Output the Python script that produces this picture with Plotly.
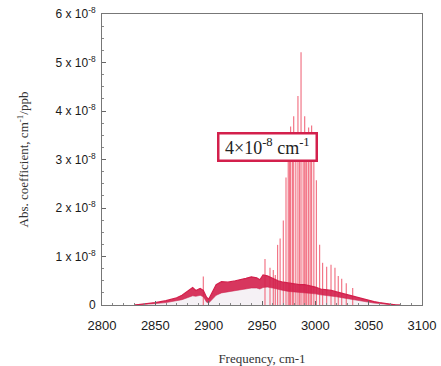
import plotly.graph_objects as go

# Broadband envelope (units of 1e-8 cm-1/ppb)
env_freq = [2830, 2840, 2850, 2860, 2870, 2875, 2880, 2885, 2888, 2892, 2895, 2898, 2900, 2903,
            2907, 2912, 2918, 2925, 2930, 2935, 2940, 2945, 2948, 2951, 2955, 2960, 2965, 2970,
            2975, 2980, 2985, 2990, 2995, 3000, 3005, 3010, 3015, 3020, 3025, 3030, 3035, 3040,
            3045, 3050, 3055, 3060, 3065, 3070, 3075, 3080]
env_upper = [0.0, 0.02, 0.05, 0.09, 0.15, 0.20, 0.28, 0.36, 0.30, 0.34, 0.30, 0.16, 0.12, 0.25,
             0.42, 0.48, 0.47, 0.50, 0.52, 0.55, 0.58, 0.56, 0.52, 0.62, 0.60, 0.55, 0.50, 0.47,
             0.45, 0.43, 0.42, 0.42, 0.40, 0.37, 0.33, 0.32, 0.30, 0.27, 0.24, 0.21, 0.18, 0.15,
             0.12, 0.09, 0.07, 0.05, 0.03, 0.015, 0.005, 0.0]
env_lower = [0.0, 0.01, 0.03, 0.05, 0.08, 0.11, 0.15, 0.19, 0.18, 0.20, 0.17, 0.06, 0.04, 0.10,
             0.20, 0.25, 0.27, 0.30, 0.32, 0.34, 0.35, 0.35, 0.33, 0.36, 0.37, 0.35, 0.32, 0.30,
             0.28, 0.27, 0.26, 0.26, 0.25, 0.23, 0.21, 0.20, 0.19, 0.17, 0.15, 0.13, 0.11, 0.09,
             0.07, 0.05, 0.04, 0.03, 0.015, 0.007, 0.002, 0.0]

# Sharp rovibrational lines (units of 1e-8 cm-1/ppb)
line_freq = [2895, 2952.8, 2957.5, 2960.6, 2962.5, 2964.6, 2967, 2970, 2972.5, 2974.6, 2975.8,
             2976.8, 2978.5, 2979.7, 2981.7, 2983.7, 2985.2, 2986.6, 2988.6, 2990, 2991.2, 2992,
             2993.7, 2995.2, 2996.5, 2998.6, 3001, 3004, 3006.8, 3010.6, 3014.7, 3018.4, 3021.5,
             3024.7, 3029, 3035]
line_height = [0.59, 0.95, 0.77, 0.72, 0.62, 1.24, 1.37, 1.74, 2.63, 3.2, 3.0,
               3.68, 3.3, 3.89, 3.5, 4.31, 3.2, 5.21, 3.4, 3.89, 3.1, 3.3,
               3.66, 3.2, 3.7, 3.2, 2.57, 1.24, 0.87, 0.79, 0.83, 0.77, 0.6,
               0.54, 0.45, 0.35]

x_ticks = [2800, 2850, 2900, 2950, 3000, 3050, 3100]
y_ticks = [0, 1, 2, 3, 4, 5, 6]
y_ticktext = ["0"] + [f"{v} x 10<sup>-8</sup>" for v in y_ticks[1:]]

CRIMSON = "#d3204c"

fig = go.Figure()

# light interior under the band
fig.add_trace(go.Scatter(x=env_freq, y=env_lower, mode="lines",
                         line=dict(color="rgba(190,190,200,0.6)", width=0.6),
                         fill="tozeroy", fillcolor="rgba(235,228,235,0.5)",
                         hoverinfo="skip", showlegend=False))

# sharp lines
lx, ly = [], []
for f, h in zip(line_freq, line_height):
    lx += [f, f, None]
    ly += [0, h, None]
fig.add_trace(go.Scatter(x=lx, y=ly, mode="lines",
                         line=dict(color="rgba(240,95,115,0.85)", width=1.2),
                         hoverinfo="skip", showlegend=False))

# crimson band
fig.add_trace(go.Scatter(x=env_freq, y=env_lower, mode="lines",
                         line=dict(color=CRIMSON, width=0.5), hoverinfo="skip", showlegend=False))
fig.add_trace(go.Scatter(x=env_freq, y=env_upper, mode="lines",
                         line=dict(color=CRIMSON, width=1.2), fill="tonexty",
                         fillcolor="rgba(211,32,76,0.9)", hoverinfo="skip", showlegend=False))

fig.add_annotation(x=2955.6, y=3.25, xref="x", yref="y",
                   text="&nbsp;4×10<sup>-8</sup> cm<sup>-1</sup>&nbsp;", showarrow=False,
                   font=dict(family="Liberation Serif", size=18, color="#222"),
                   bgcolor="white", bordercolor=CRIMSON, borderwidth=2.5, borderpad=1)

fig.update_layout(
    width=441, height=366,
    margin=dict(l=102, r=19, t=14, b=61, autoexpand=False),
    paper_bgcolor="white", plot_bgcolor="white",
    font=dict(family="Liberation Sans", color="#222"),
)
fig.update_xaxes(range=[2800, 3100], tickvals=x_ticks, ticks="inside", ticklen=4,
                 tickcolor="#666", showline=True, linecolor="#777", mirror=True, showgrid=False,
                 zeroline=False, automargin=False, ticklabelstandoff=8, ticklabeloverflow="allow",
                 tickfont=dict(size=13, family="Liberation Sans", color="#1a1a1a"),
                 minor=dict(dtick=10, ticks="inside", ticklen=2, tickcolor="#888"),
                 title=dict(text="Frequency, cm-1", font=dict(family="Liberation Serif", size=13, color="#333"),
                            standoff=22))
fig.update_yaxes(range=[0, 6], tickvals=y_ticks, ticktext=y_ticktext, ticks="inside", ticklen=4,
                 tickcolor="#666", showline=True, linecolor="#777", mirror=True, showgrid=False,
                 zeroline=False, automargin=False, ticklabelstandoff=3, ticklabeloverflow="allow",
                 tickfont=dict(size=12, family="Liberation Sans", color="#1a1a1a"),
                 minor=dict(dtick=0.25, ticks="inside", ticklen=2, tickcolor="#888"),
                 title=dict(text="Abs. coefficient, cm<sup>-1</sup>/ppb",
                            font=dict(family="Liberation Serif", size=13, color="#333"), standoff=23))

# remove the default page-body margin so the 441x366 figure fills the window exactly
fig.write_html("out.html", config={"displayModeBar": False},
               post_script="document.body.style.margin='0';")
